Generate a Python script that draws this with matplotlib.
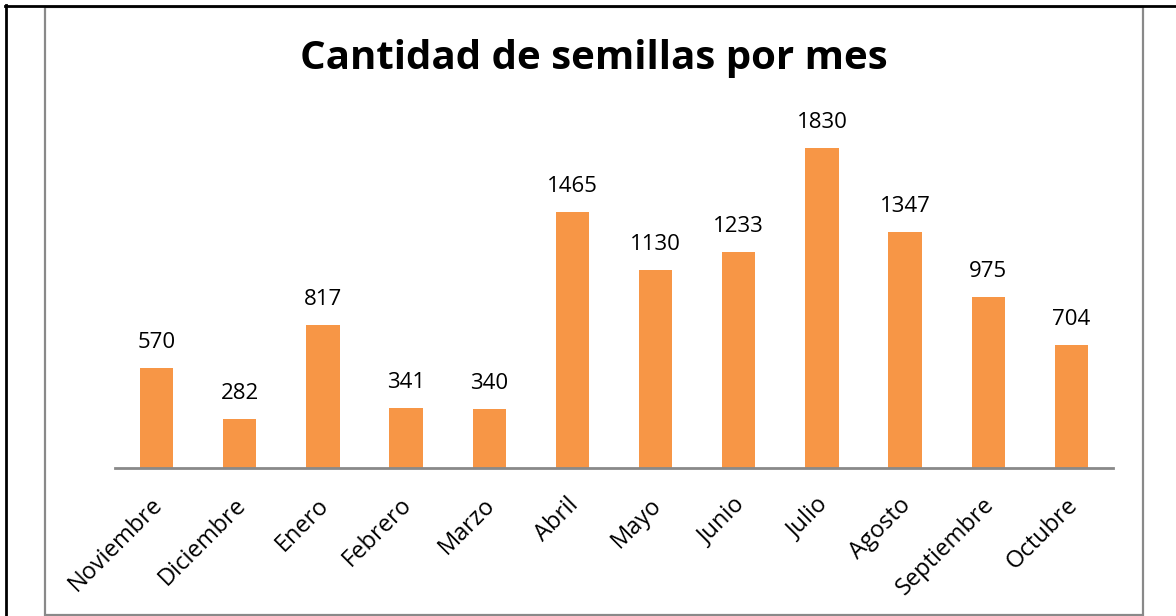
import matplotlib.pyplot as plt
from matplotlib.patches import Rectangle
from matplotlib.lines import Line2D
from matplotlib.transforms import ScaledTranslation

meses = ["Noviembre", "Diciembre", "Enero", "Febrero", "Marzo", "Abril",
         "Mayo", "Junio", "Julio", "Agosto", "Septiembre", "Octubre"]
semillas = [570, 282, 817, 341, 340, 1465, 1130, 1233, 1830, 1347, 975, 704]

plt.rcParams['font.family'] = ['Open Sans', 'DejaVu Sans']

W, H = 1176, 616
fig = plt.figure(figsize=(W / 100, H / 100), dpi=100)
ax = fig.add_axes([115 / W, (H - 468) / H, (1113 - 115) / W, (468 - 118) / H])

x = range(len(meses))
bars = ax.bar(x, semillas, width=0.4, color='#F79646')
for xi, v in zip(x, semillas):
    ax.text(xi, v + 145, str(v), ha='center', va='center', fontsize=16, color='black')

ax.set_xlim(-0.5, len(meses) - 0.5)
ax.set_ylim(0, 2000)
ax.set_xticks(list(x))
ax.set_xticklabels(meses, rotation=45, ha='right', va='top', rotation_mode='anchor', fontsize=17)
ax.tick_params(axis='x', length=0, pad=18)
shift = ScaledTranslation(-6 / 100, 0, fig.dpi_scale_trans)
for lbl in ax.get_xticklabels():
    lbl.set_transform(lbl.get_transform() + shift)
ax.set_yticks([])
for s in ['top', 'right', 'left']:
    ax.spines[s].set_visible(False)
ax.spines['bottom'].set_color('#898989')
ax.spines['bottom'].set_linewidth(2)

fig.text(594 / W, 1 - 58 / H, "Cantidad de semillas por mes", ha='center', va='center',
         fontsize=29, fontweight='bold')

# chart border (gray) and page lines (black)
fig.patches.append(Rectangle((44.5 / W, 1.5 / H), (1142.5 - 44.5) / W, (614.5 - 6.5) / H,
                             transform=fig.transFigure, fill=False, edgecolor='#898989', linewidth=1.6))
fig.lines.append(Line2D([5 / W, 1], [1 - 5.5 / H, 1 - 5.5 / H], transform=fig.transFigure,
                        color='black', linewidth=2))
fig.lines.append(Line2D([5.5 / W, 5.5 / W], [0, 1 - 5 / H], transform=fig.transFigure,
                        color='black', linewidth=2))

fig.savefig("out.png", dpi=100)
